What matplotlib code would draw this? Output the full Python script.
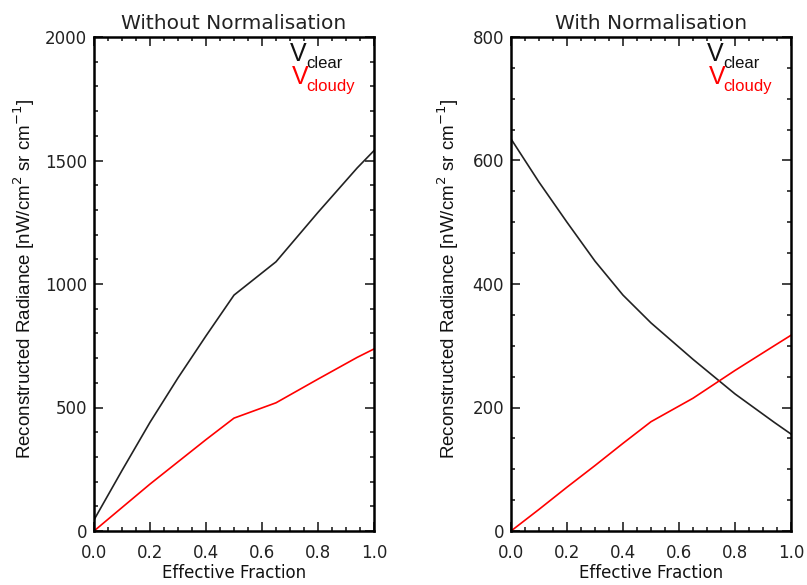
import matplotlib
matplotlib.use("Agg")
import matplotlib.pyplot as plt
from matplotlib.ticker import MultipleLocator

# ---- data ----
fraction = [0.0, 0.1, 0.2, 0.3, 0.4, 0.5, 0.65, 0.8, 0.94, 1.0]
raw_clear = [45, 245, 440, 620, 790, 955, 1090, 1290, 1470, 1540]
raw_cloudy = [0, 95, 190, 280, 370, 457, 519, 615, 703, 737]
norm_clear = [635, 565, 500, 437, 382, 337, 278, 222, 176, 157]
norm_cloudy = [0, 35, 71, 106, 142, 177, 215, 260, 300, 317]

titles = ["Without Normalisation", "With Normalisation"]
ylims = [2000, 800]
ymajor = [500, 200]
yminor = [100, 50]
xlabel = "Effective Fraction"
ylabel = r"Reconstructed Radiance [nW/cm$^2$ sr cm$^{-1}$]"

fig = plt.figure(figsize=(8.07, 5.85), dpi=100)
axes_pos = [[94 / 807, 54 / 585, 280 / 807, 494 / 585],
            [511 / 807, 54 / 585, 280 / 807, 494 / 585]]
ylab_x = [-0.205, -0.18]
series = [(raw_clear, raw_cloudy), (norm_clear, norm_cloudy)]

for i in range(2):
    ax = fig.add_axes(axes_pos[i])
    clear, cloudy = series[i]
    ax.plot(fraction, clear, color="#222222", lw=1.2)
    ax.plot(fraction, cloudy, color="red", lw=1.2)
    ax.set_xlim(0, 1)
    ax.set_ylim(0, ylims[i])
    ax.xaxis.set_major_locator(MultipleLocator(0.2))
    ax.xaxis.set_minor_locator(MultipleLocator(0.05))
    ax.yaxis.set_major_locator(MultipleLocator(ymajor[i]))
    ax.yaxis.set_minor_locator(MultipleLocator(yminor[i]))
    ax.xaxis.set_major_formatter(plt.FuncFormatter(lambda v, p: f"{v:.1f}"))
    ax.yaxis.set_major_formatter(plt.FuncFormatter(lambda v, p: f"{v:.0f}"))
    ax.tick_params(which="both", direction="in", top=True, right=True,
                   width=1.2, labelsize=12, colors="#222222")
    ax.tick_params(which="major", length=6.5)
    ax.tick_params(which="minor", length=3.2)
    ax.tick_params(axis="x", pad=9)
    ax.tick_params(axis="y", pad=5)
    for s in ax.spines.values():
        s.set_linewidth(1.8)
    ax.set_title(titles[i], fontsize=14.5, pad=6, color="#222222")
    ax.set_xlabel(xlabel, fontsize=12, color="#111111")
    ax.xaxis.set_label_coords(0.5, -0.066)
    ax.set_ylabel(ylabel, fontsize=13.5, family="Liberation Sans", color="#111111")
    ax.yaxis.set_label_coords(ylab_x[i], 0.51)
    # legend labels
    ax.text(0.70, 0.952, "V", transform=ax.transAxes, fontsize=18,
            family="Liberation Sans", color="#111111", ha="left", va="baseline")
    ax.text(0.757, 0.937, "clear", transform=ax.transAxes, fontsize=12,
            family="Liberation Sans", color="#111111", ha="left", va="baseline")
    ax.text(0.707, 0.904, "V", transform=ax.transAxes, fontsize=18,
            family="Liberation Sans", color="red", ha="left", va="baseline")
    ax.text(0.757, 0.891, "cloudy", transform=ax.transAxes, fontsize=12,
            family="Liberation Sans", color="red", ha="left", va="baseline")

fig.savefig("out.png", dpi=100)
